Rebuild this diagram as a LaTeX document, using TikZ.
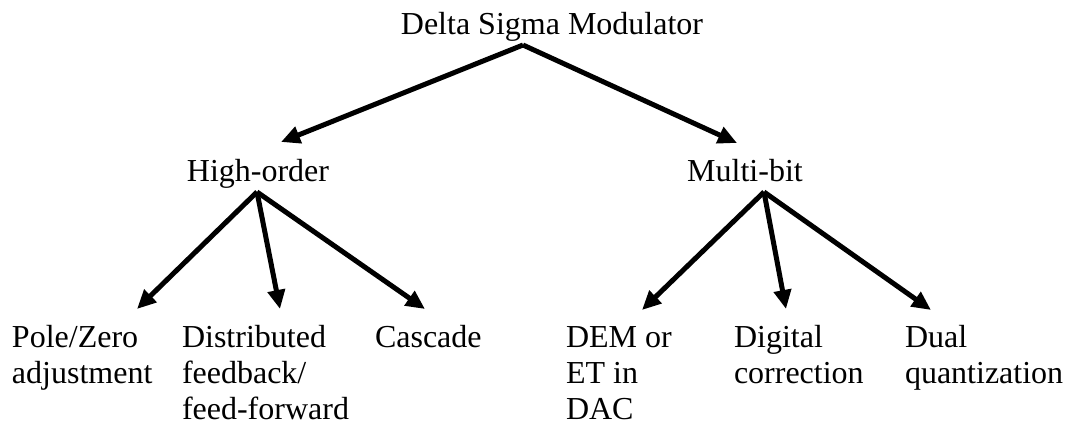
\documentclass[tikz,border=0pt]{standalone}
\usepackage{fontspec}
\setmainfont{Liberation Serif}
\usetikzlibrary{arrows.meta}
\tikzset{
  lbl/.style={inner sep=0pt, outer sep=0pt, font=\fontsize{32}{36}\selectfont},
  conn/.style={line width=5pt, -{Triangle[length=19pt,width=17pt]}},
}
\newcommand{\lines}[1]{\begin{tabular}[t]{@{}l@{}}#1\end{tabular}}
\begin{document}
\begin{tikzpicture}[x=1pt,y=-1pt]
\useasboundingbox (0,0) rectangle (1066,425);
% labels
\node[lbl, anchor=base] (root) at (552,35) {Delta Sigma Modulator};
\node[lbl, anchor=base] (ho) at (258,182) {High-order};
\node[lbl, anchor=base] (mb) at (745,182) {Multi-bit};
\node[lbl, anchor=base west] (pz) at (12,347) {\lines{Pole/Zero\\adjustment}};
\node[lbl, anchor=base west] (df) at (182,347) {\lines{Distributed\\feedback/\\feed-forward}};
\node[lbl, anchor=base west] (cc) at (375,347) {Cascade};
\node[lbl, anchor=base west] (dem) at (566,347) {\lines{DEM or\\ET in\\DAC}};
\node[lbl, anchor=base west] (dc) at (734,347) {\lines{Digital\\correction}};
\node[lbl, anchor=base west] (dq) at (905,347) {\lines{Dual\\quantization}};
% connector end points
\coordinate (root-o) at (523,45);
\coordinate (ho-i) at (281,142);
\coordinate (mb-i) at (737,143);
\coordinate (ho-o) at (257,192);
\coordinate (mb-o) at (764,192);
\coordinate (pz-i) at (137,309);
\coordinate (df-i) at (280,309);
\coordinate (cc-i) at (425,309);
\coordinate (dem-i) at (642,310);
\coordinate (dc-i) at (786,309);
\coordinate (dq-i) at (931,310);
% connectors
\draw[conn] (root-o) -- (ho-i);
\draw[conn] (root-o) -- (mb-i);
\draw[conn] (ho-o) -- (pz-i);
\draw[conn] (ho-o) -- (df-i);
\draw[conn] (ho-o) -- (cc-i);
\draw[conn] (mb-o) -- (dem-i);
\draw[conn] (mb-o) -- (dc-i);
\draw[conn] (mb-o) -- (dq-i);
\end{tikzpicture}
\end{document}
